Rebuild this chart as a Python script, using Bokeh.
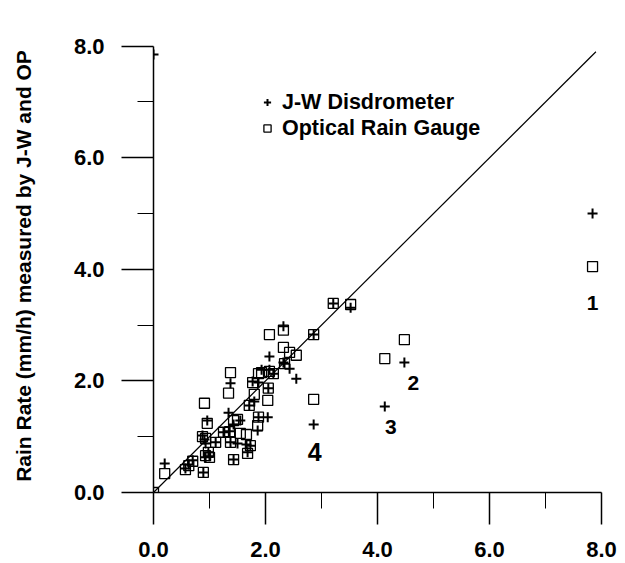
from bokeh.plotting import figure
from bokeh.models import Range1d, FixedTicker, PrintfTickFormatter, Legend, LegendItem
from bokeh.embed import file_html
from bokeh.resources import INLINE

# Reference rain rate (x, mm/h) and rates measured by the two instruments
ref_rate = [0.00, 0.20, 0.57, 0.63, 0.70, 0.89, 0.91, 0.875, 0.93, 0.96,
            0.93, 1.00, 0.98, 1.11, 1.25, 1.36, 1.375, 1.43, 1.55, 1.66,
            1.73, 1.68, 1.375, 1.34, 1.43, 1.50, 1.875, 1.86, 1.71, 1.80,
            2.04, 1.77, 2.05, 1.875, 1.93, 2.07, 2.14, 2.07, 2.32, 2.32,
            2.43, 2.55, 2.34, 2.86, 3.21, 3.52, 2.86, 4.13, 4.48, 7.84]
jw_rate = [7.85, 0.52, 0.43, 0.50, 0.58, 0.36, 0.95, 1.02, 0.88, 1.29,
           0.63, 0.65, 0.72, 0.90, 1.08, 1.10, 0.90, 0.59, 1.29, 0.86,
           0.84, 0.72, 1.96, 1.43, 1.22, 0.88, 1.35, 1.11, 1.56, 1.63,
           1.35, 1.99, 1.87, 1.97, 2.20, 2.44, 2.13, 2.20, 2.98, 2.33,
           2.22, 2.04, 2.31, 2.83, 3.39, 3.31, 1.22, 1.54, 2.33, 5.00]
org_rate = [0.00, 0.34, 0.41, 0.48, 0.56, 0.36, 1.60, 1.00, 0.97, 1.24,
            0.66, 0.63, 0.72, 0.90, 1.08, 1.09, 0.90, 0.59, 1.06, 1.04,
            0.84, 0.70, 2.15, 1.78, 1.29, 1.31, 1.35, 1.20, 1.56, 1.76,
            1.65, 1.97, 1.87, 2.13, 2.15, 2.17, 2.13, 2.83, 2.91, 2.60,
            2.51, 2.46, 2.31, 2.83, 3.39, 3.37, 1.67, 2.40, 2.74, 4.05]

one_to_one_x = [0.0, 7.9]
one_to_one_y = [0.0, 7.9]

outlier_names = ["1", "2", "3", "4"]
outlier_index = [49, 48, 47, 46]

major_ticks = [0, 2, 4, 6, 8]
minor_ticks = [1, 3, 5, 7]

series_names = ["J-W Disdrometer", "Optical Rain Gauge"]
y_title = "Rain Rate (mm/h) measured by J-W and OP"

p = figure(width=625, height=563,
           x_range=Range1d(0, 8.107), y_range=Range1d(0, 8.12),
           output_backend="svg", toolbar_location=None,
           min_border_left=153, min_border_right=18,
           min_border_top=39, min_border_bottom=71)
p.outline_line_alpha = 0
p.xgrid.grid_line_color = "white"
p.ygrid.grid_line_color = "white"

jw = p.scatter(ref_rate, jw_rate, marker="cross", size=10, line_width=2, line_color="black")
org = p.scatter(ref_rate, org_rate, marker="square", size=10, line_width=1.3,
                line_color="black", fill_alpha=0)
p.line(one_to_one_x, one_to_one_y, line_color="black", line_width=1.2)

# outlier numbers, anchored on the J-W points
label_dx = [0, 9, 6, 1]
label_dy = [89, 20, 20, 28]
label_fs = ["21px", "21px", "21px", "25px"]
for k, i in enumerate(outlier_index):
    p.text(x=[ref_rate[i]], y=[jw_rate[i]], text=[outlier_names[k]],
           x_offset=label_dx[k], y_offset=label_dy[k],
           text_font_style="bold", text_font_size=label_fs[k],
           text_align="center", text_baseline="middle", text_color="black")

for ax in (p.xaxis[0], p.yaxis[0]):
    ax.bounds = (0, 8)
    ax.ticker = FixedTicker(ticks=major_ticks, minor_ticks=minor_ticks)
    ax.formatter = PrintfTickFormatter(format="%.1f")
    ax.axis_line_color = "black"
    ax.axis_line_width = 1.5
    ax.major_tick_in = 0
    ax.minor_tick_in = 0
    ax.major_tick_line_color = "black"
    ax.major_tick_line_width = 1.5
    ax.minor_tick_line_color = "black"
    ax.major_tick_out = 32
    ax.minor_tick_out = 16
    ax.major_label_text_font_style = "bold"
    ax.major_label_text_font_size = "22px"
    ax.major_label_text_color = "black"
    ax.major_label_standoff = 17

p.yaxis[0].axis_label = y_title
p.yaxis[0].axis_label_text_font_style = "bold"
p.yaxis[0].axis_label_text_font_size = "21px"
p.yaxis[0].axis_label_text_color = "black"
p.yaxis[0].axis_label_standoff = 36

legend = Legend(items=[LegendItem(label=series_names[0], renderers=[jw]),
                       LegendItem(label=series_names[1], renderers=[org])],
                location=(105, 351))
legend.border_line_alpha = 0
legend.background_fill_alpha = 0
legend.padding = 0
legend.margin = 0
legend.spacing = 0
legend.glyph_width = 18
legend.glyph_height = 26
legend.label_height = 26
legend.label_standoff = 6
legend.label_text_font_style = "bold"
legend.label_text_font_size = "21.5px"
legend.label_text_color = "black"
p.add_layout(legend, "center")

open("out.html", "w").write(file_html(p, INLINE))
